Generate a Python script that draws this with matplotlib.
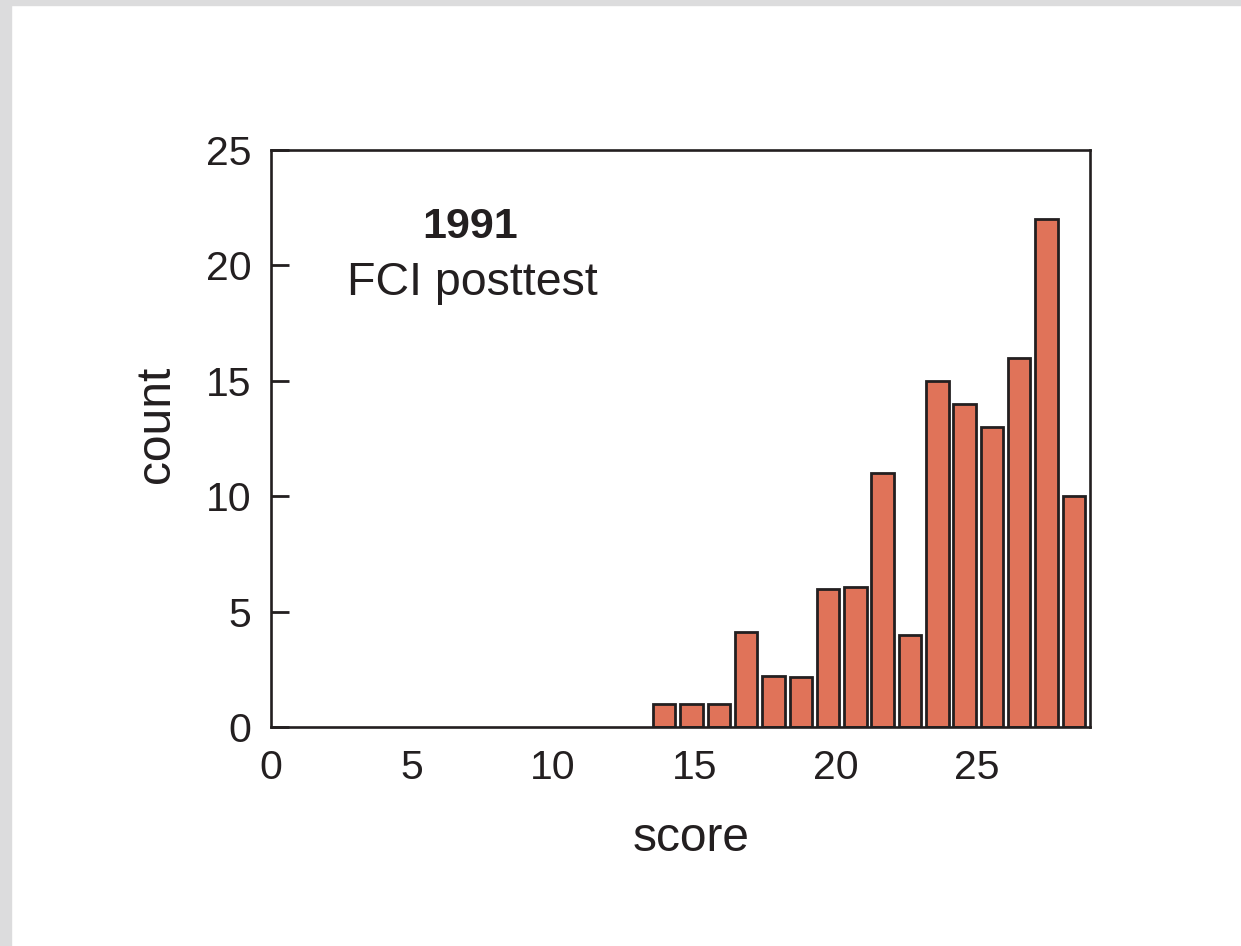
import numpy as np
import matplotlib
matplotlib.use("Agg")
import matplotlib.pyplot as plt
from matplotlib.patches import Rectangle

plt.rcParams["font.family"] = ["Liberation Sans", "DejaVu Sans"]

# FCI posttest scores, 1991 (one bar per score bin)
scores = np.arange(14, 30)
counts = [1, 1, 1, 4.1, 2.2, 2.15, 6, 6.05, 11, 4, 15, 14, 13, 16, 22, 10]

xtick_labels = [0, 5, 10, 15, 20, 25]
ytick_vals = [0, 5, 10, 15, 20, 25]

bar_color = "#e07359"
ink = "#231f20"

fig = plt.figure(figsize=(12.41, 9.46), dpi=100)
# light grey frame on the left and top of the original scan
fig.patches.append(Rectangle((0, 0), 11 / 1241, 1, transform=fig.transFigure,
                             color="#dcdcdd", zorder=0))
fig.patches.append(Rectangle((0, 1 - 5 / 946), 1, 5 / 946, transform=fig.transFigure,
                             color="#dcdcdd", zorder=0))

ax = fig.add_axes([0.2181, 0.2315, 0.8783 - 0.2181, 0.8414 - 0.2315])

ax.bar(scores, counts, width=0.82, align="edge", color=bar_color,
       edgecolor=ink, linewidth=2.0, zorder=2)

ax.set_xlim(0, 30)
ax.set_ylim(0, 25)

# the printed score labels are spaced on a 0-29 scale, a bit wider than the bars
ax.set_xticks([t * 30 / 29 for t in xtick_labels], labels=[str(t) for t in xtick_labels])
ax.set_yticks(ytick_vals)

ax.tick_params(axis="x", length=0, pad=16, labelsize=29.5, colors=ink)
ax.tick_params(axis="y", direction="in", length=12.7, width=2, pad=14,
               labelsize=29.5, colors=ink)

for s in ax.spines.values():
    s.set_linewidth(1.9)
    s.set_color(ink)

ax.set_xlabel("score", fontsize=34.5, color=ink, labelpad=21)
ax.set_ylabel("count", fontsize=34.5, color=ink, labelpad=19)
ax.xaxis.label.set_x(0.5136)
ax.yaxis.label.set_y(0.524)

ax.text(0.2433, 0.847, "1991", transform=ax.transAxes, ha="center", va="baseline",
        fontsize=31, fontweight="bold", color=ink)
ax.text(0.2463, 0.7487, "FCI posttest", transform=ax.transAxes, ha="center",
        va="baseline", fontsize=33.5, color=ink)

fig.savefig("out.png", dpi=100)
